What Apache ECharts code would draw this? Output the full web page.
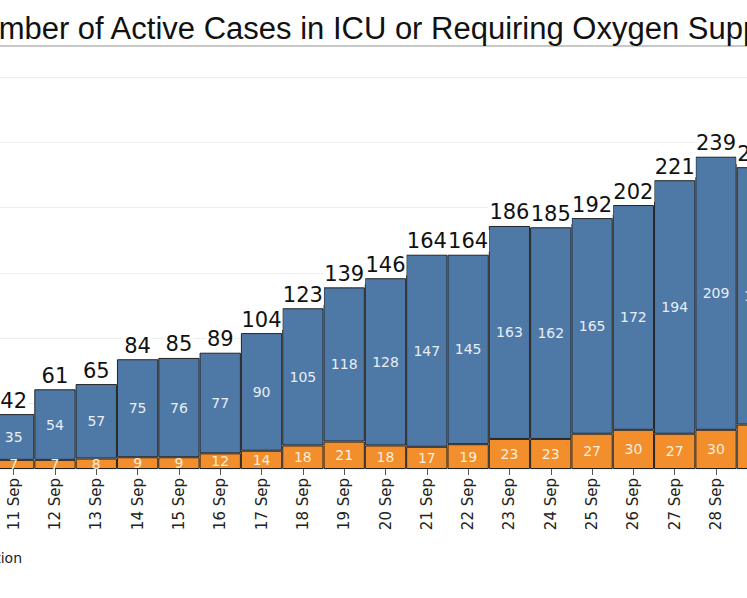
<!DOCTYPE html>
<html>
<head>
<meta charset="utf-8">
<style>
  html, body { margin: 0; padding: 0; background: #fff; }
  #chart { width: 747px; height: 598px; }
</style>
<script src="https://cdn.jsdelivr.net/npm/echarts@6/dist/echarts.min.js"></script>
</head>
<body>
<div id="chart"></div>
<script>
var dates = ['11 Sep', '12 Sep', '13 Sep', '14 Sep', '15 Sep', '16 Sep', '17 Sep', '18 Sep', '19 Sep', '20 Sep',
  '21 Sep', '22 Sep', '23 Sep', '24 Sep', '25 Sep', '26 Sep', '27 Sep', '28 Sep', '29 Sep'];
var icu = [7, 7, 8, 9, 9, 12, 14, 18, 21, 18, 17, 19, 23, 23, 27, 30, 27, 30, 34];
var oxygen = [35, 54, 57, 75, 76, 77, 90, 105, 118, 128, 147, 145, 163, 162, 165, 172, 194, 209, 197];
var yTicks = [0, 50, 100, 150, 200, 250, 300];

var blue = '#4e79a7';
var orange = '#f28e2b';

var chart = echarts.init(document.getElementById('chart'), null, { renderer: 'svg' });

chart.setOption({
  animation: false,
  title: {
    text: 'Number of Active Cases in ICU or Requiring Oxygen Supplementation',
    left: -41,
    top: 13,
    padding: 0,
    textStyle: {
      fontFamily: 'Liberation Sans',
      fontSize: 31,
      fontWeight: 'normal',
      color: '#111'
    }
  },
  graphic: [{
    type: 'rect',
    shape: { x: 0, y: 45, width: 747, height: 2 },
    style: { fill: '#c8c8c8' }
  }],
  legend: {
    right: 725,
    width: 700,
    top: 550,
    padding: 0,
    itemGap: 20,
    icon: 'rect',
    textStyle: { fontFamily: 'DejaVu Sans', fontSize: 14, color: '#222' },
    data: ['ICU', 'Requiring Oxygen Supplementation']
  },
  grid: {
    outerBoundsMode: 'none',
    left: -7,
    right: -31,
    top: 77,
    bottom: 129
  },
  xAxis: {
    type: 'category',
    data: dates,
    axisLine: { show: false },
    axisTick: { show: true, length: 6, lineStyle: { color: '#555' }, alignWithLabel: true },
    axisLabel: {
      rotate: 90,
      margin: 9,
      fontFamily: 'DejaVu Sans',
      fontSize: 15,
      color: '#222'
    }
  },
  yAxis: {
    type: 'value',
    min: yTicks[0],
    max: yTicks[yTicks.length - 1],
    interval: yTicks[1] - yTicks[0],
    axisLabel: { show: false },
    axisLine: { show: false },
    axisTick: { show: false },
    splitLine: { lineStyle: { color: '#eeeeee' } }
  },
  series: [
    {
      name: 'ICU',
      type: 'bar',
      stack: 'cases',
      barCategoryGap: '0%',
      data: icu,
      itemStyle: { color: orange, borderColor: '#222', borderWidth: 1 },
      label: {
        show: true,
        position: 'inside',
        fontFamily: 'DejaVu Sans',
        fontSize: 14,
        color: '#fbeede'
      }
    },
    {
      name: 'Requiring Oxygen Supplementation',
      type: 'bar',
      stack: 'cases',
      barCategoryGap: '0%',
      data: oxygen,
      itemStyle: { color: blue, borderColor: '#222', borderWidth: 1 },
      label: {
        show: true,
        position: 'inside',
        fontFamily: 'DejaVu Sans',
        fontSize: 14,
        color: '#e8eef5'
      }
    },
    {
      name: 'total',
      type: 'bar',
      stack: 'cases',
      barCategoryGap: '0%',
      data: icu.map(function() { return 0; }),
      itemStyle: { color: 'transparent' },
      label: {
        show: true,
        position: 'top',
        distance: 3,
        fontFamily: 'DejaVu Sans',
        fontSize: 21,
        color: '#111',
        backgroundColor: '#fff',
        padding: [1, 1, 0, 1],
        formatter: function(p) {
          return icu[p.dataIndex] + oxygen[p.dataIndex];
        }
      }
    }
  ]
});
</script>
</body>
</html>
